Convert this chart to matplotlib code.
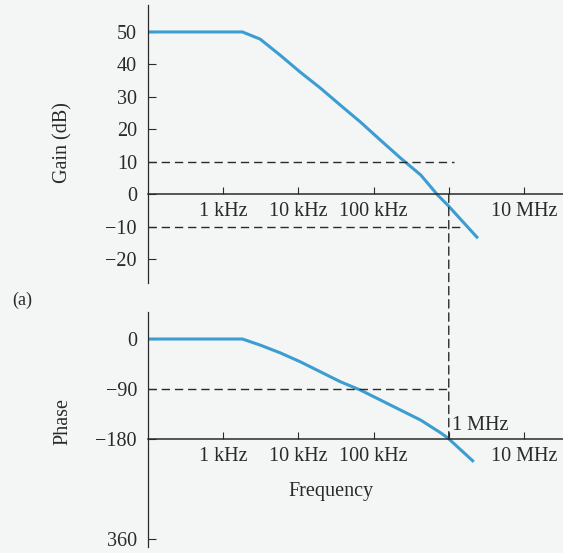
import matplotlib.pyplot as plt
from matplotlib.patches import ConnectionPatch

plt.rcParams['font.family'] = ['Liberation Serif', 'DejaVu Serif']

# values
gain_freq = [100, 1.8e3, 3.1e3, 5.75e3, 1.06e4, 1.96e4, 3.63e4, 6.71e4,
             1.24e5, 2.29e5, 4.24e5, 7.13e5, 9.7e5, 2.44e6]
gain_db = [50, 50, 47.8, 42.8, 37.6, 32.7, 27.4, 22.2,
           16.6, 11.1, 5.9, -0.3, -3.4, -13.6]

phase_freq = [100, 1.8e3, 3.11e3, 5.75e3, 1.06e4, 1.96e4, 3.63e4, 6.71e4,
              1.24e5, 2.29e5, 4.24e5, 7.82e5, 9.7e5, 2.15e6]
phase_deg = [0, 0, -11, -25, -41, -59, -77, -92,
             -110, -128, -146, -169, -178, -221]

xticks = [1e3, 1e4, 1e5, 1e6, 1e7]
xlabels_gain = ['1 kHz', '10 kHz', '100 kHz', '', '10 MHz']
xlabels_phase = ['1 kHz', '10 kHz', '100 kHz', '', '10 MHz']
gain_ticks = [50, 40, 30, 20, 10, 0, -10, -20]
gain_labels = ['50', '40', '30', '20', '10', '0', '\u221210', '\u221220']
phase_ticks = [0, -90, -180, -360]
phase_labels = ['0', '\u221290', '\u2212180', '360']

bg = '#f3f6f5'
blue = '#3c9dd2'
ink = '#2a2a2a'
fs = 14.5

fig = plt.figure(figsize=(5.63, 5.53), dpi=100, facecolor=bg)
ax1 = fig.add_axes([0.2629, 0.4882, 0.737, 0.5027])
ax2 = fig.add_axes([0.2629, 0.0108, 0.737, 0.425])

for ax in (ax1, ax2):
    ax.set_facecolor(bg)
    ax.set_xscale('log')
    ax.set_xlim(100, 3.3e7)
    ax.spines['top'].set_visible(False)
    ax.spines['right'].set_visible(False)
    ax.spines['left'].set_color(ink)
    ax.spines['bottom'].set_color(ink)
    ax.spines['left'].set_linewidth(0.9)
    ax.spines['bottom'].set_linewidth(1.1)
    ax.minorticks_off()
    ax.tick_params(axis='x', direction='in', length=5, width=0.8, pad=6,
                   labelsize=fs, colors=ink)
    ax.tick_params(axis='y', direction='in', length=6, width=0.8, pad=8,
                   labelsize=fs, colors=ink)
    ax.set_xticks(xticks)

# gain panel
ax1.set_ylim(-27.4, 58.3)
ax1.spines['bottom'].set_position(('data', 0))
ax1.set_xticklabels(xlabels_gain)
ax1.set_yticks(gain_ticks)
ax1.set_yticklabels(gain_labels)
ax1.plot(gain_freq, gain_db, color=blue, lw=2.2, solid_capstyle='butt')
ax1.plot([100, 1.17e6], [10, 10], ls=(0, (6, 3.5)), color=ink, lw=1.0)
ax1.plot([100, 1.45e6], [-10, -10], ls=(0, (6, 3.5)), color=ink, lw=1.0)
ax1.set_ylabel('Gain (dB)', fontsize=fs, color=ink)
ax1.yaxis.set_label_coords(-0.182, 0.505)

# phase panel
ax2.set_ylim(-374.4, 48.6)
ax2.spines['bottom'].set_position(('data', -180))
ax2.set_xticklabels(xlabels_phase)
ax2.set_yticks(phase_ticks)
ax2.set_yticklabels(phase_labels)
ax2.plot(phase_freq, phase_deg, color=blue, lw=2.2, solid_capstyle='butt')
ax2.plot([100, 1e6], [-90, -90], ls=(0, (6, 3.5)), color=ink, lw=1.0)
ax2.text(1.12e6, -172, '1 MHz', fontsize=fs, color=ink, ha='left', va='bottom')
ax2.set_xlabel('Frequency', fontsize=fs, color=ink)
ax2.xaxis.set_label_coords(0.442, 0.277)
ax2.set_ylabel('Phase', fontsize=fs, color=ink)
ax2.yaxis.set_label_coords(-0.182, 0.536)

# dashed drop line at 1 MHz linking both panels
con = ConnectionPatch(xyA=(1e6, 0), coordsA=ax1.transData,
                      xyB=(1e6, -180), coordsB=ax2.transData,
                      ls=(0, (6, 3.5)), color=ink, lw=1.0)
fig.add_artist(con)

fig.text(0.021, 0.448, '(a)', fontsize=fs - 1.5, color=ink)

fig.savefig('out.png', dpi=100, facecolor=bg)
